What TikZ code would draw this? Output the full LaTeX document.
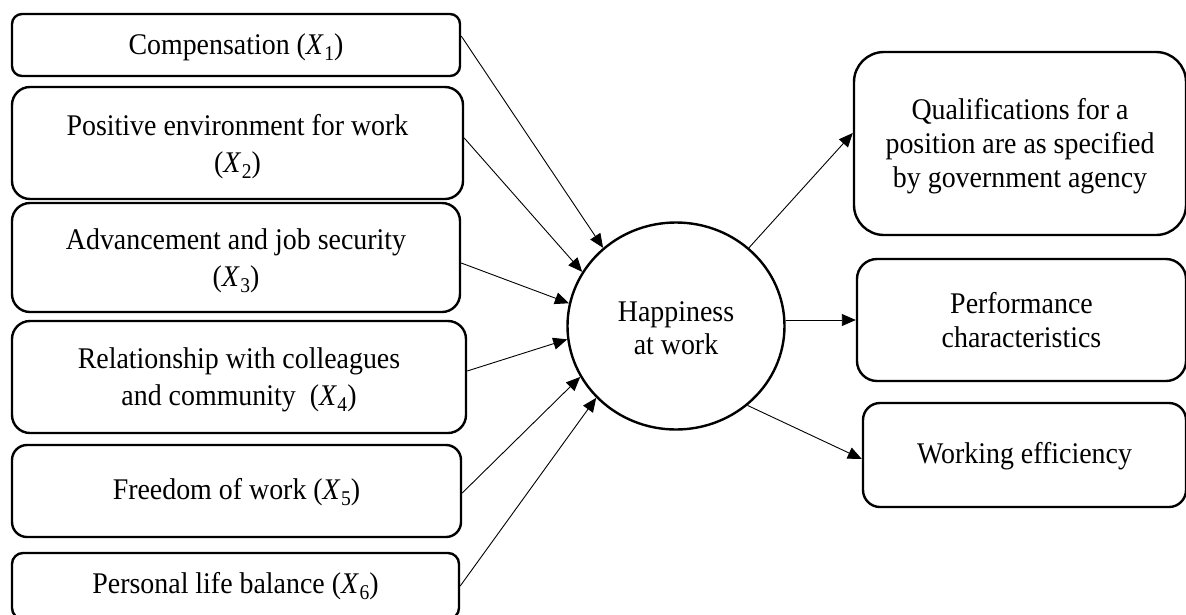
\documentclass[tikz,border=0pt]{standalone}
\usepackage{fontspec}
\setmainfont{Liberation Serif}[FakeStretch=0.93]
\usetikzlibrary{arrows.meta,shapes.geometric,calc}
\newcommand{\xvar}[1]{\textit{X}\kern0.5pt\raisebox{-6pt}{\fontsize{21}{21}\selectfont #1}}
\newcommand{\lift}[1]{\rule{0pt}{#1}}
\begin{document}
\begin{tikzpicture}[x=1pt,y=-1pt,
  lbox/.style={draw, line width=2.4pt, align=center, inner sep=0pt,
    font=\fontsize{30}{37}\selectfont},
  rbox/.style={draw, line width=2.4pt, align=center, inner sep=0pt,
    font=\fontsize{30}{34}\selectfont},
  hub/.style={ellipse, draw, line width=2.4pt, align=center, inner sep=0pt,
    font=\fontsize{30}{33}\selectfont},
  arr/.style={-{Triangle[length=14pt,width=12pt]}, line width=0.9pt}]
\useasboundingbox (0,0) rectangle (1186,614);

% left boxes
\node[lbox, minimum width=448, minimum height=62, rounded corners=10] (b1) at (236,45) {\lift{26pt}Compensation (\xvar{1})};
\node[lbox, minimum width=451, minimum height=112, rounded corners=18] (b2) at (237.5,143) {\lift{28pt}Positive environment for work\\(\xvar{2})};
\node[lbox, minimum width=448, minimum height=109, rounded corners=18] (b3) at (236,257.5) {\lift{28pt}Advancement and job security\\(\xvar{3})};
\node[lbox, minimum width=454, minimum height=112, rounded corners=18] (b4) at (239,377) {\lift{26pt}Relationship with colleagues\\and community~ (\xvar{4})};
\node[lbox, minimum width=449, minimum height=92, rounded corners=15] (b5) at (236.5,491) {\lift{24pt}Freedom of work (\xvar{5})};
\node[lbox, minimum width=447, minimum height=66, rounded corners=11] (b6) at (235.5,586) {Personal life balance (\xvar{6})};

% centre
\node[hub, minimum width=217, minimum height=207] (h) at (676,326) {\lift{24pt}Happiness\\at work};

% right boxes
\node[rbox, minimum width=332, minimum height=183, rounded corners=30] (q) at (1020,143.5) {\lift{26pt}Qualifications for a\\position are as specified\\by government agency};
\node[rbox, minimum width=329, minimum height=122, rounded corners=20] (p) at (1021.5,320) {Performance\\characteristics};
\node[rbox, minimum width=323, minimum height=104, rounded corners=17] (w) at (1024.5,455) {\lift{23pt}Working efficiency};

% connectors in
\draw[arr] ($(b1.east)+(0,-9)$) -- (h.133);
\draw[arr] ($(b2.east)+(0,-5)$) -- (h.150);
\draw[arr] ($(b3.east)+(0,5.5)$) -- (h.168);
\draw[arr] ($(b4.east)+(0,-6)$) -- (h.187);
\draw[arr] ($(b5.east)+(0,2)$) -- (h.208);
\draw[arr] (b6.east) -- (h.222);

% connectors out
\draw[arr] (h.47) -- ($(q.west)+(0,-10.5)$);
\draw[arr] (h.east |- p.west) -- (p.west);
\draw[arr] (h.-48) -- ($(w.west)+(0,4)$);
\end{tikzpicture}
\end{document}
